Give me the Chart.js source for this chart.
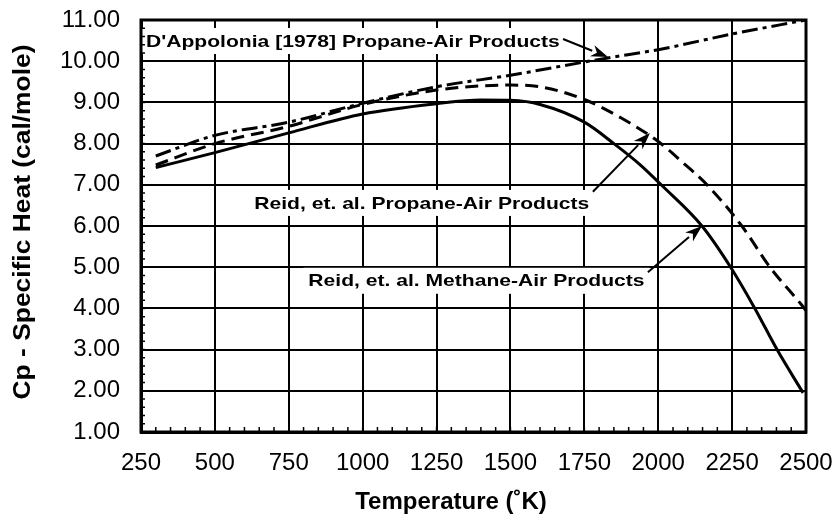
<!DOCTYPE html>
<html lang="en">
<head>
    <meta charset="UTF-8">
    <title>Specific Heat of Combustion Products</title>
    <script src="https://cdn.jsdelivr.net/npm/chart.js"></script>
    <style>
        body { margin: 0; background: #fff; }
        #wrap { width: 839px; height: 523px; position: relative; }
    </style>
</head>
<body>
    <div id="wrap"><canvas id="cpChart"></canvas></div>
    <script>
        // D'Appolonia [1978], propane-air products
        const dappTemp = [300, 500, 750, 1000, 1250, 1500, 1750, 1830, 2000, 2250, 2500];
        const dappCp   = [7.70, 8.20, 8.52, 8.98, 9.38, 9.66, 9.98, 10.08, 10.28, 10.66, 11.00];

        // Reid et al., propane-air products
        const propTemp = [300, 500, 750, 1000, 1250, 1400, 1500, 1600, 1750, 1875, 2000, 2080, 2165, 2283, 2378, 2480, 2500];
        const propCp   = [7.48, 8.00, 8.42, 8.95, 9.30, 9.40, 9.42, 9.38, 9.07, 8.62, 8.05, 7.56, 7.00, 6.00, 5.00, 4.13, 3.95];

        // Reid et al., methane-air products
        const methTemp = [300, 500, 750, 1000, 1250, 1400, 1500, 1600, 1750, 1850, 1940, 2010, 2148, 2245, 2327, 2402, 2490];
        const methCp   = [7.42, 7.78, 8.26, 8.72, 8.97, 9.06, 9.05, 8.95, 8.52, 8.00, 7.48, 7.00, 6.00, 5.00, 4.00, 3.00, 1.95];

        const xTicks = [250, 500, 750, 1000, 1250, 1500, 1750, 2000, 2250, 2500];
        const yTicks = [1, 2, 3, 4, 5, 6, 7, 8, 9, 10, 11];

        // callout labels with their arrows (temperature, cp)
        const notes = [
            { text: "D'Appolonia [1978] Propane-Air Products", at: [967, 10.49], tail: [1678, 10.54], tip: [1830, 10.10] },
            { text: 'Reid, et. al. Propane-Air Products', at: [1200, 6.56], tail: [1779, 6.83], tip: [1972, 8.26] },
            { text: 'Reid, et. al. Methane-Air Products', at: [1385, 4.67], tail: [1965, 4.88], tip: [2148, 6.00] }
        ];

        const toPoints = (xs, ys) => xs.map((t, i) => ({ x: t, y: ys[i] }));

        function wideText(ctx, text, cx, cy, stretch, angle) {
            ctx.save();
            ctx.translate(cx, cy);
            if (angle) ctx.rotate(angle);
            ctx.scale(stretch, 1);
            ctx.textAlign = 'center';
            ctx.textBaseline = 'middle';
            ctx.fillText(text, 0, 0);
            ctx.restore();
        }

        const overlay = {
            id: 'overlay',
            afterDatasetsDraw(chart) {
                const { ctx, scales: { x, y } } = chart;
                ctx.save();
                ctx.font = 'bold 17px "Liberation Sans", Arial, sans-serif';
                const stretch = 1.24;
                notes.forEach(n => {
                    const cx = x.getPixelForValue(n.at[0]);
                    const cy = y.getPixelForValue(n.at[1]);
                    const w = ctx.measureText(n.text).width * stretch;
                    ctx.fillStyle = '#fff';
                    ctx.fillRect(cx - w / 2 - 5, cy - 13, w + 10, 26);
                    ctx.fillStyle = '#000';
                    wideText(ctx, n.text, cx, cy + 1, stretch, 0);

                    // arrow
                    const x0 = x.getPixelForValue(n.tail[0]), y0 = y.getPixelForValue(n.tail[1]);
                    const x1 = x.getPixelForValue(n.tip[0]), y1 = y.getPixelForValue(n.tip[1]);
                    const ang = Math.atan2(y1 - y0, x1 - x0);
                    const len = 17, half = 6;
                    const bx = x1 - len * Math.cos(ang), by = y1 - len * Math.sin(ang);
                    ctx.strokeStyle = '#000';
                    ctx.lineWidth = 2;
                    ctx.beginPath();
                    ctx.moveTo(x0, y0);
                    ctx.lineTo(bx, by);
                    ctx.stroke();
                    ctx.beginPath();
                    ctx.moveTo(x1, y1);
                    ctx.lineTo(bx - half * Math.sin(ang), by + half * Math.cos(ang));
                    ctx.lineTo(x1 - 0.7 * len * Math.cos(ang), y1 - 0.7 * len * Math.sin(ang));
                    ctx.lineTo(bx + half * Math.sin(ang), by - half * Math.cos(ang));
                    ctx.closePath();
                    ctx.fill();
                });
                ctx.restore();
            },
            afterDraw(chart) {
                const { ctx, chartArea: a, scales: { x, y } } = chart;
                ctx.save();
                ctx.strokeStyle = '#000';

                // minor ticks along the left and bottom axes
                ctx.lineWidth = 1.5;
                ctx.beginPath();
                for (let t = 250; t <= 2500; t += 50) {
                    const px = x.getPixelForValue(t);
                    ctx.moveTo(px, a.bottom);
                    ctx.lineTo(px, a.bottom - 5);
                }
                for (let v = 1; v <= 11.001; v += 0.2) {
                    const py = y.getPixelForValue(v);
                    ctx.moveTo(a.left, py);
                    ctx.lineTo(a.left + 4, py);
                }
                ctx.stroke();

                ctx.lineWidth = 3;
                ctx.strokeRect(a.left, a.top, a.right - a.left, a.bottom - a.top);

                // axis titles
                ctx.fillStyle = '#000';
                ctx.font = 'bold 24px "Liberation Sans", Arial, sans-serif';
                wideText(ctx, 'Temperature (\u02DaK)', 451, 502, 1.0, 0);
                wideText(ctx, 'Cp - Specific Heat (cal/mole)', 23, 222, 1.1, -Math.PI / 2);
                ctx.restore();
            }
        };

        const tickFont = { family: '"Liberation Sans", Arial, sans-serif', size: 24 };

        const ctx = document.getElementById('cpChart').getContext('2d');
        new Chart(ctx, {
            type: 'line',
            data: {
                datasets: [
                    {
                        label: "D'Appolonia [1978] Propane-Air Products",
                        data: toPoints(dappTemp, dappCp),
                        borderColor: '#000',
                        borderWidth: 3,
                        borderDash: [16, 5, 4, 5],
                        pointRadius: 0,
                        cubicInterpolationMode: 'monotone'
                    },
                    {
                        label: 'Reid, et. al. Propane-Air Products',
                        data: toPoints(propTemp, propCp),
                        borderColor: '#000',
                        borderWidth: 3,
                        borderDash: [13, 7],
                        pointRadius: 0,
                        cubicInterpolationMode: 'monotone'
                    },
                    {
                        label: 'Reid, et. al. Methane-Air Products',
                        data: toPoints(methTemp, methCp),
                        borderColor: '#000',
                        borderWidth: 3,
                        pointRadius: 0,
                        cubicInterpolationMode: 'monotone'
                    }
                ]
            },
            options: {
                responsive: true,
                maintainAspectRatio: false,
                animation: false,
                layout: { padding: { left: 0, top: 20, right: 33, bottom: 0 } },
                scales: {
                    x: {
                        type: 'linear',
                        min: 250,
                        max: 2500,
                        afterBuildTicks: s => { s.ticks = xTicks.map(v => ({ value: v })); },
                        afterFit: s => { s.height = 91; s.paddingLeft = 0; s.paddingRight = 0; },
                        grid: { color: '#000', lineWidth: 2, drawTicks: false },
                        border: { color: '#000', width: 3 },
                        ticks: {
                            color: '#000',
                            padding: 17,
                            maxRotation: 0,
                            callback: v => String(v),
                            font: tickFont
                        }
                    },
                    y: {
                        min: 1,
                        max: 11,
                        afterBuildTicks: s => { s.ticks = yTicks.map(v => ({ value: v })); },
                        afterFit: s => { s.width = 141; s.paddingTop = 0; s.paddingBottom = 0; },
                        grid: { color: '#000', lineWidth: 2, drawTicks: false },
                        border: { color: '#000', width: 3 },
                        ticks: {
                            color: '#000',
                            padding: 21,
                            callback: v => v.toFixed(2),
                            font: tickFont
                        }
                    }
                },
                plugins: {
                    legend: { display: false },
                    tooltip: { enabled: false }
                }
            },
            plugins: [overlay]
        });
    </script>
</body>
</html>
